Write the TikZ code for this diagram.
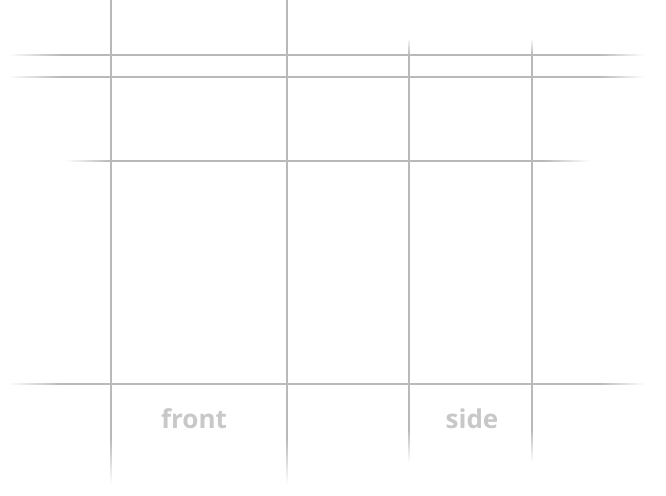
\documentclass[tikz,border=0pt]{standalone}
\usepackage{fontspec}
\newfontfamily\viewfont{Open Sans}
\usepackage{tikz}
\usetikzlibrary{calc}
\definecolor{guide}{RGB}{185,185,185}
\definecolor{viewgrey}{RGB}{200,200,200}
\tikzstyle{guideline}=[draw=guide, line width=1.3pt]
\tikzstyle{viewname}=[text=viewgrey, font=\viewfont\bfseries\fontsize{26}{26}\selectfont, inner sep=0pt]
% fade a guide out, from full at #1 to nothing at #2
\newcommand{\fadeout}[2]{
\foreach \k in {0,...,19} {
	\pgfmathtruncatemacro{\tint}{97-5*\k}
	\draw[guideline, draw=guide!\tint!white] ($(#1)!\k/20!(#2)$) -- ($(#1)!\k/20+0.05!(#2)$);
}
}
% horizontal guide: y, start, full from, full to, end
\newcommand{\guideH}[5]{
	\fadeout{#3,#1}{#2,#1}
	\draw[guideline] (#3,#1) -- (#4,#1);
	\fadeout{#4,#1}{#5,#1}
}
% vertical guide: x, start, full from, full to, end
\newcommand{\guideV}[5]{
	\fadeout{#1,#3}{#1,#2}
	\draw[guideline] (#1,#3) -- (#1,#4);
	\fadeout{#1,#4}{#1,#5}
}

\begin{document}
\begin{tikzpicture}[x=1pt, y=-1pt]
\useasboundingbox[fill=white] (0,0) rectangle (666,495);
\guideH{161}{65}{110}{545}{590}
\guideV{111}{-2}{0}{440}{485}
\guideV{287}{-2}{0}{440}{485}
\guideV{409}{38}{55}{430}{463}
\guideV{532}{38}{55}{430}{463}
\guideH{55}{8}{60}{600}{645}
\guideH{77}{8}{60}{600}{645}
\guideH{384}{8}{60}{600}{645}
\node[viewname] (front) at (194,419) {front};
\node[viewname] (side) at (472,419) {side};
\end{tikzpicture}
\end{document}
